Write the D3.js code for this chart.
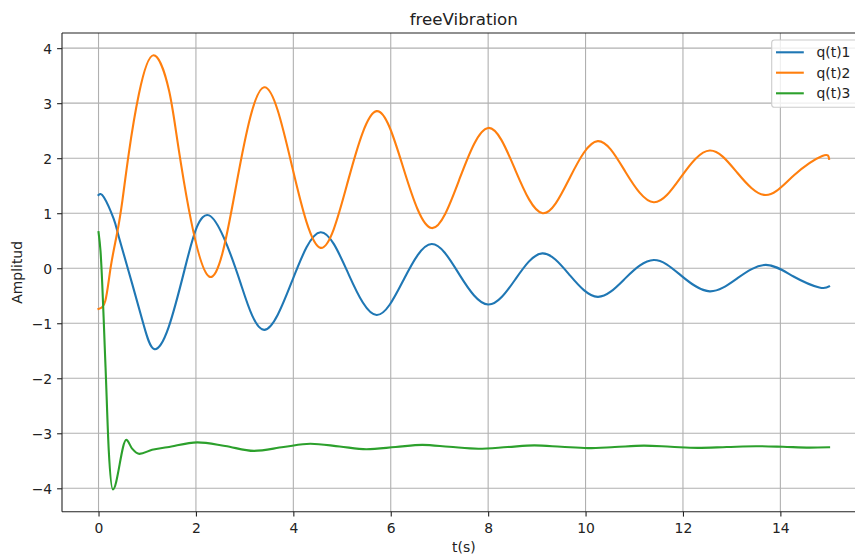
<!DOCTYPE html>
<html>
<head>
<meta charset="utf-8">
<script src="https://cdn.jsdelivr.net/npm/d3@7"></script>
<style>
  html, body { margin: 0; padding: 0; background: #fff; }
  svg { display: block; font-family: "DejaVu Sans", sans-serif; }
</style>
</head>
<body>
<svg id="chart" width="855" height="558"></svg>
<script>
// Modal responses of the free vibration, sampled at extrema and crossings (t in s)
const seriesNames = ["q(t)1", "q(t)2", "q(t)3"];
const seriesColors = ["#1f77b4", "#ff7f0e", "#2ca02c"];

const q1T = [0, 0.11, 0.31, 0.42, 0.69, 0.93, 1.14, 1.44, 1.78, 2.02, 2.27, 2.57, 2.92, 3.40, 3.98, 4.56, 5.14, 5.71, 6.27, 6.84, 7.42, 8.0, 8.56, 9.11, 9.68, 10.25, 10.82, 11.4, 11.97, 12.55, 13.12, 13.7, 14.27, 14.8, 15];
const q1V = [1.33, 1.29, 0.90, 0.56, -0.28, -1.04, -1.47, -1.07, 0.02, 0.75, 0.96, 0.56, -0.28, -1.12, -0.22, 0.655, -0.12, -0.85, -0.20, 0.44, -0.13, -0.66, -0.20, 0.27, -0.13, -0.52, -0.18, 0.15, -0.14, -0.42, -0.18, 0.06, -0.15, -0.35, -0.33];

const q2T = [0, 0.14, 0.25, 0.38, 0.49, 0.62, 0.83, 1.13, 1.45, 1.70, 2.27, 2.84, 3.40, 3.98, 4.56, 5.13, 5.71, 6.27, 6.84, 7.42, 8.0, 8.56, 9.12, 9.68, 10.25, 10.82, 11.4, 11.97, 12.55, 13.12, 13.7, 14.28, 14.86, 15];
const q2V = [-0.74, -0.59, 0.02, 0.63, 1.23, 2.08, 3.17, 3.87, 3.22, 1.86, -0.15, 1.57, 3.29, 1.83, 0.37, 1.61, 2.855, 1.79, 0.73, 1.64, 2.55, 1.78, 1.0, 1.65, 2.31, 1.75, 1.2, 1.67, 2.14, 1.73, 1.33, 1.69, 2.04, 1.99];

const q3T = [0, 0.04, 0.144, 0.21, 0.295, 0.57, 0.69, 0.84, 1.10, 1.41, 2.03, 2.6, 3.19, 3.8, 4.35, 4.95, 5.5, 6.1, 6.65, 7.2, 7.8, 8.4, 8.95, 9.5, 10.05, 10.6, 11.2, 11.75, 12.3, 12.9, 13.5, 14.05, 14.6, 15];
const q3V = [0.655, 0.32, -1.8, -3.31, -4.02, -3.12, -3.28, -3.375, -3.30, -3.255, -3.165, -3.23, -3.32, -3.25, -3.19, -3.24, -3.29, -3.25, -3.21, -3.245, -3.28, -3.25, -3.22, -3.245, -3.27, -3.25, -3.225, -3.245, -3.265, -3.25, -3.235, -3.245, -3.26, -3.255];

const xTicks = [0, 2, 4, 6, 8, 10, 12, 14];
const yTicks = [-4, -3, -2, -1, 0, 1, 2, 3, 4];

const titleText = "freeVibration";
const xLabel = "t(s)";
const yLabel = "Amplitud";

const svg = d3.select("#chart");
const axL = 62, axT = 33, axB = 511.7, axR = 865.6;

const x = d3.scaleLinear().domain([-0.75, 15.75]).range([axL, axR]);
const y = d3.scaleLinear().domain([-4.4255, 4.2755]).range([axB, axT]);

const textColor = "#222";
const fs = 13.9;

// grid
const grid = svg.append("g");
grid.selectAll("line.gx").data(xTicks).join("line")
  .attr("class", "gx")
  .attr("x1", d => x(d)).attr("x2", d => x(d))
  .attr("y1", axT).attr("y2", axB)
  .attr("stroke", "#b0b0b0").attr("stroke-width", 1.1);
grid.selectAll("line.gy").data(yTicks).join("line")
  .attr("class", "gy")
  .attr("x1", axL).attr("x2", axR)
  .attr("y1", d => y(d)).attr("y2", d => y(d))
  .attr("stroke", "#b0b0b0").attr("stroke-width", 1.1);

// series
const series = [
  { name: seriesNames[0], color: seriesColors[0], pts: d3.zip(q1T, q1V), curve: d3.curveNatural },
  { name: seriesNames[1], color: seriesColors[1], pts: d3.zip(q2T, q2V), curve: d3.curveNatural },
  { name: seriesNames[2], color: seriesColors[2], pts: d3.zip(q3T, q3V), curve: d3.curveMonotoneX }
];

series.forEach(s => {
  const line = d3.line().x(d => x(d[0])).y(d => y(d[1])).curve(s.curve);
  svg.append("path")
    .attr("d", line(s.pts))
    .attr("fill", "none")
    .attr("stroke", s.color)
    .attr("stroke-width", 2.1)
    .attr("stroke-linejoin", "round")
    .attr("stroke-linecap", "square");
});

// axes
const xAxis = svg.append("g")
  .attr("transform", `translate(0,${axB})`)
  .call(d3.axisBottom(x).tickValues(xTicks).tickSize(4.9).tickPadding(6.9).tickFormat(d3.format("d")));
const yAxis = svg.append("g")
  .attr("transform", `translate(${axL},0)`)
  .call(d3.axisLeft(y).tickValues(yTicks).tickSize(4.9).tickPadding(4.9).tickFormat(d3.format("d")));

[xAxis, yAxis].forEach(a => {
  a.select(".domain").remove();
  a.selectAll(".tick line").attr("stroke", "#222").attr("stroke-width", 1.1);
  a.selectAll(".tick text")
    .attr("fill", textColor)
    .attr("font-size", fs)
    .attr("font-family", "DejaVu Sans");
});
yAxis.selectAll(".tick text").attr("dy", "0.4em");

// spines
const spines = svg.append("g").attr("stroke", "#222").attr("stroke-width", 1.1).attr("fill", "none");
spines.append("line").attr("x1", axL).attr("x2", axL).attr("y1", axT).attr("y2", axB);
spines.append("line").attr("x1", axR).attr("x2", axR).attr("y1", axT).attr("y2", axB);
spines.append("line").attr("x1", axL).attr("x2", axR).attr("y1", axT).attr("y2", axT);
spines.append("line").attr("x1", axL).attr("x2", axR).attr("y1", axB).attr("y2", axB);

// title and axis labels
svg.append("text")
  .attr("x", (axL + axR) / 2).attr("y", 24.7)
  .attr("text-anchor", "middle")
  .attr("font-size", 16.7)
  .attr("fill", textColor)
  .text(titleText);

svg.append("text")
  .attr("x", (axL + axR) / 2).attr("y", 552)
  .attr("text-anchor", "middle")
  .attr("font-size", fs)
  .attr("fill", textColor)
  .text(xLabel);

svg.append("text")
  .attr("transform", `translate(22,${(axT + axB) / 2}) rotate(-90)`)
  .attr("text-anchor", "middle")
  .attr("font-size", fs)
  .attr("fill", textColor)
  .text(yLabel);

// legend
const lg = svg.append("g");
const lgX = 771.7, lgY = 40, lgW = 86.5, lgH = 67.3;
lg.append("rect")
  .attr("x", lgX).attr("y", lgY).attr("width", lgW).attr("height", lgH)
  .attr("rx", 2.8).attr("ry", 2.8)
  .attr("fill", "#fff").attr("fill-opacity", 0.8)
  .attr("stroke", "#cccccc").attr("stroke-width", 1.1);
const rowY = [52.3, 72.7, 93.3];
series.forEach((s, i) => {
  lg.append("line")
    .attr("x1", 776).attr("x2", 803.8)
    .attr("y1", rowY[i]).attr("y2", rowY[i])
    .attr("stroke", s.color).attr("stroke-width", 2.1);
  lg.append("text")
    .attr("x", 816.5).attr("y", rowY[i] + 5)
    .attr("font-size", fs)
    .attr("fill", textColor)
    .text(s.name);
});
</script>
</body>
</html>
